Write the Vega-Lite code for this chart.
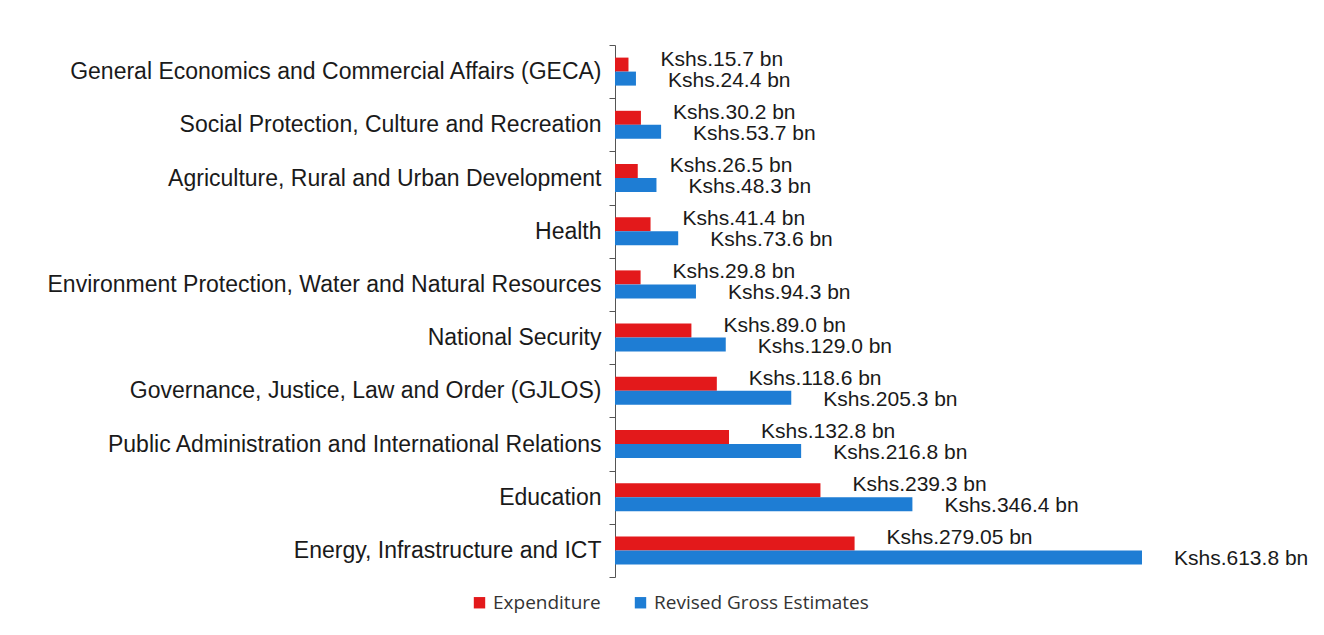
{
  "$schema": "https://vega.github.io/schema/vega-lite/v6.json",
  "autosize": {"type": "none"},
  "width": 601,
  "height": 532,
  "padding": {"left": 615, "top": 45, "right": 108, "bottom": 58},
  "background": "white",
  "data": {"values": [
    {"category": "General Economics and Commercial Affairs (GECA)", "series": "Expenditure", "value": 15.7, "label": "Kshs.15.7 bn"},
    {"category": "General Economics and Commercial Affairs (GECA)", "series": "Revised Gross Estimates", "value": 24.4, "label": "Kshs.24.4 bn"},
    {"category": "Social Protection, Culture and Recreation", "series": "Expenditure", "value": 30.2, "label": "Kshs.30.2 bn"},
    {"category": "Social Protection, Culture and Recreation", "series": "Revised Gross Estimates", "value": 53.7, "label": "Kshs.53.7 bn"},
    {"category": "Agriculture, Rural and Urban Development", "series": "Expenditure", "value": 26.5, "label": "Kshs.26.5 bn"},
    {"category": "Agriculture, Rural and Urban Development", "series": "Revised Gross Estimates", "value": 48.3, "label": "Kshs.48.3 bn"},
    {"category": "Health", "series": "Expenditure", "value": 41.4, "label": "Kshs.41.4 bn"},
    {"category": "Health", "series": "Revised Gross Estimates", "value": 73.6, "label": "Kshs.73.6 bn"},
    {"category": "Environment Protection, Water and Natural Resources", "series": "Expenditure", "value": 29.8, "label": "Kshs.29.8 bn"},
    {"category": "Environment Protection, Water and Natural Resources", "series": "Revised Gross Estimates", "value": 94.3, "label": "Kshs.94.3 bn"},
    {"category": "National Security", "series": "Expenditure", "value": 89.0, "label": "Kshs.89.0 bn"},
    {"category": "National Security", "series": "Revised Gross Estimates", "value": 129.0, "label": "Kshs.129.0 bn"},
    {"category": "Governance, Justice, Law and Order (GJLOS)", "series": "Expenditure", "value": 118.6, "label": "Kshs.118.6 bn"},
    {"category": "Governance, Justice, Law and Order (GJLOS)", "series": "Revised Gross Estimates", "value": 205.3, "label": "Kshs.205.3 bn"},
    {"category": "Public Administration and International Relations", "series": "Expenditure", "value": 132.8, "label": "Kshs.132.8 bn"},
    {"category": "Public Administration and International Relations", "series": "Revised Gross Estimates", "value": 216.8, "label": "Kshs.216.8 bn"},
    {"category": "Education", "series": "Expenditure", "value": 239.3, "label": "Kshs.239.3 bn"},
    {"category": "Education", "series": "Revised Gross Estimates", "value": 346.4, "label": "Kshs.346.4 bn"},
    {"category": "Energy, Infrastructure and ICT", "series": "Expenditure", "value": 279.05, "label": "Kshs.279.05 bn"},
    {"category": "Energy, Infrastructure and ICT", "series": "Revised Gross Estimates", "value": 613.8, "label": "Kshs.613.8 bn"}
  ]},
  "encoding": {
    "y": {
      "field": "category", "type": "nominal", "sort": null,
      "scale": {"paddingInner": 0, "paddingOuter": 0},
      "axis": {
        "title": null, "labelFont": "Liberation Sans", "labelFontSize": 23, "labelColor": "#1a1a1a",
        "labelPadding": 8, "labelLimit": 700, "tickBand": "extent", "tickSize": 6,
        "domainColor": "#555555", "tickColor": "#555555", "grid": false
      }
    },
    "yOffset": {
      "field": "series", "type": "nominal", "sort": ["Expenditure", "Revised Gross Estimates"],
      "scale": {"paddingOuter": 0.9, "paddingInner": 0}
    },
    "x": {
      "field": "value", "type": "quantitative",
      "scale": {"domain": [0, 700], "nice": false},
      "axis": null
    }
  },
  "layer": [
    {
      "mark": {"type": "bar"},
      "encoding": {
        "color": {
          "field": "series", "type": "nominal",
          "scale": {"domain": ["Expenditure", "Revised Gross Estimates"], "range": ["#e3191b", "#1e7dd4"]},
          "legend": {
            "title": null, "orient": "none", "direction": "horizontal",
            "legendX": -145, "legendY": 548,
            "symbolType": "square", "symbolSize": 130, "symbolStrokeWidth": 0,
            "labelFont": "Open Sans", "labelFontSize": 19, "labelColor": "#333333",
            "labelLimit": 400, "columnPadding": 30, "labelOffset": 4
          }
        }
      }
    },
    {
      "transform": [{"filter": "datum.series === 'Expenditure'"}],
      "mark": {"type": "text", "align": "left", "baseline": "middle", "dx": 32, "dy": -5, "font": "Liberation Sans", "fontSize": 21, "color": "#1a1a1a"},
      "encoding": {
        "text": {"field": "label"}
      }
    },
    {
      "transform": [{"filter": "datum.series === 'Revised Gross Estimates'"}],
      "mark": {"type": "text", "align": "left", "baseline": "middle", "dx": 32, "dy": 2, "font": "Liberation Sans", "fontSize": 21, "color": "#1a1a1a"},
      "encoding": {
        "text": {"field": "label"}
      }
    }
  ],
  "config": {"view": {"stroke": null}}
}
